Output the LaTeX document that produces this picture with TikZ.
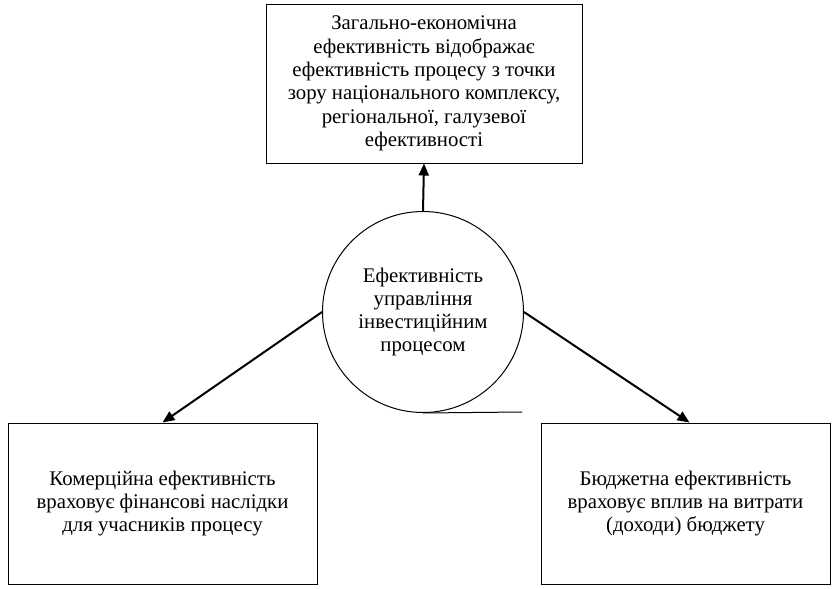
\documentclass[tikz,border=0pt]{standalone}
\usepackage{fontspec}
\setmainfont{Liberation Serif}
\usetikzlibrary{ % tikz packages
    arrows.meta,positioning
}
\tikzset{>={Triangle[length=12pt,width=10pt]}}
\tikzset{block/.style={
    draw,
    line width=1pt,
    align=center,
    inner sep=0pt,
    font=\fontsize{20.8}{23.3}\selectfont
}}
\tikzset{hub/.style={
    draw,
    circle,
    line width=1pt,
    minimum size=201pt,
    inner sep=0pt,
    align=center,
    font=\fontsize{20.8}{23.3}\selectfont
}}

\begin{document}
\begin{tikzpicture}[x=1pt,y=-1pt]
        \useasboundingbox (0,0) rectangle (839,589);

        \node[block, minimum width=316pt, minimum height=159pt] (general) at (424,83.5)
            {Загально-економічна\\ефективність відображає\\ефективність процесу з точки\\зору національного комплексу,\\регіональної, галузевої\\ефективності};
        \node[hub] (eff) at (423,312)
            {Ефективність\\управління\\інвестиційним\\процесом};
        \node[block, minimum width=309pt, minimum height=161pt] (commerce) at (162.5,503.5)
            {Комерційна ефективність\\враховує фінансові наслідки\\для учасників процесу};
        \node[block, minimum width=289pt, minimum height=161pt] (budget) at (685.5,503.5)
            {Бюджетна ефективність\\враховує вплив на витрати\\(доходи) бюджету};
        \coordinate (tail) at (522,412);

        \draw[line width=1pt] (eff.south) -- (tail);

        \path[->, line width=2pt]
            (eff.north)
                edge (general.south)
            (eff.west)
                edge (commerce.north)
            (eff.east)
                edge ([xshift=4pt]budget.north);
    \end{tikzpicture}
\end{document}
